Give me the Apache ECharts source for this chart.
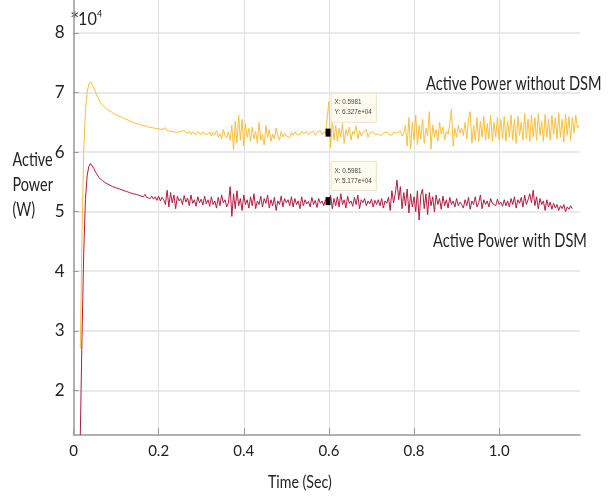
<!DOCTYPE html>
<html>
<head>
<meta charset="utf-8">
<script src="https://cdn.jsdelivr.net/npm/echarts@6/dist/echarts.min.js"></script>
<style>
html,body{margin:0;padding:0;background:#fff;}
#chart{width:608px;height:499px;}
</style>
</head>
<body>
<div id="chart"></div>
<script>
// ---- data (values in units of 10^4 W) ----
const timeStart = 0.016;   // s, first sample
const timeStep = 0.004;    // s, sample spacing
const xTicks = [0, 0.2, 0.4, 0.6, 0.8, 1.0];
const yTicks = [2, 3, 4, 5, 6, 7, 8];
const seriesNames = ['Active Power without DSM', 'Active Power with DSM'];

const powerWithoutDSM = [
  2.7, 4.6, 6.0, 6.7, 7.0, 7.14, 7.18, 7.16, 7.08, 7.0, 6.93, 6.88, 6.82, 6.81, 6.76, 6.75, 6.71, 6.71, 6.68, 6.68, 6.64, 6.65, 6.61, 6.62, 6.59,
  6.60, 6.56, 6.57, 6.54, 6.54, 6.51, 6.53, 6.49, 6.50, 6.47, 6.49, 6.45, 6.47, 6.44, 6.45, 6.42, 6.44, 6.41, 6.43, 6.40, 6.42, 6.39, 6.42, 6.38, 6.40,
  6.41, 6.36, 6.39, 6.35, 6.38, 6.34, 6.37, 6.33, 6.36, 6.35, 6.32, 6.36, 6.33, 6.31, 6.35, 6.30, 6.34, 6.32, 6.29, 6.34, 6.31, 6.29, 6.34, 6.30, 6.32,
  6.30, 6.34, 6.27, 6.33, 6.29, 6.36, 6.25, 6.31, 6.22, 6.38, 6.28, 6.24, 6.34, 6.20, 6.45, 6.04, 6.52, 6.15, 6.62, 6.20, 6.55, 6.10, 6.48, 6.25, 6.40,
  6.18, 6.42, 6.22, 6.35, 6.15, 6.50, 6.20, 6.30, 6.12, 6.45, 6.25, 6.38, 6.18, 6.30, 6.22, 6.40, 6.28, 6.20, 6.35, 6.25, 6.32, 6.27, 6.30, 6.24, 6.33,
  6.28, 6.34, 6.30, 6.33, 6.29, 6.35, 6.31, 6.30, 6.34, 6.29, 6.33, 6.30, 6.35, 6.28, 6.33, 6.31, 6.36, 6.29, 6.34, 6.30, 6.327, 6.85, 6.07, 6.55, 6.20,
  6.45, 6.18, 6.40, 6.25, 6.48, 6.15, 6.38, 6.28, 6.42, 6.20, 6.35, 6.30, 6.44, 6.22, 6.36, 6.27, 6.33, 6.30, 6.38, 6.25, 6.32, 6.29, 6.34, 6.30, 6.31,
  6.30, 6.33, 6.28, 6.32, 6.29, 6.34, 6.30, 6.31, 6.28, 6.33, 6.30, 6.32, 6.29, 6.35, 6.27, 6.32, 6.45, 6.10, 6.58, 6.05, 6.50, 6.20, 6.62, 6.12, 6.45,
  6.22, 6.55, 6.15, 6.40, 6.28, 6.68, 6.05, 6.45, 6.25, 6.38, 6.18, 6.50, 6.30, 6.42, 6.20, 6.35, 6.30, 6.48, 6.72, 6.10, 6.40, 6.25, 6.45, 6.32, 6.40,
  6.28, 6.50, 6.22, 6.55, 6.68, 6.15, 6.45, 6.20, 6.58, 6.18, 6.52, 6.25, 6.60, 6.20, 6.48, 6.22, 6.62, 6.18, 6.50, 6.25, 6.58, 6.20, 6.55, 6.22, 6.60,
  6.18, 6.52, 6.25, 6.62, 6.20, 6.55, 6.15, 6.60, 6.28, 6.50, 6.20, 6.65, 6.22, 6.55, 6.18, 6.62, 6.25, 6.58, 6.20, 6.65, 6.28, 6.52, 6.18, 6.63, 6.25,
  6.55, 6.20, 6.62, 6.30, 6.58, 6.22, 6.66, 6.25, 6.55, 6.17, 6.64, 6.28, 6.60, 6.20, 6.58, 6.32, 6.62, 6.40, 6.45
];

const powerWithDSM = [
  1.25, 2.9, 4.3, 5.2, 5.6, 5.76, 5.81, 5.78, 5.72, 5.66, 5.62, 5.57, 5.56, 5.52, 5.52, 5.48, 5.48, 5.45, 5.45, 5.42, 5.43, 5.40, 5.41, 5.38, 5.39,
  5.36, 5.37, 5.34, 5.35, 5.32, 5.34, 5.30, 5.33, 5.29, 5.31, 5.27, 5.30, 5.25, 5.29, 5.24, 5.27, 5.22, 5.26, 5.21, 5.25, 5.19, 5.26, 5.18, 5.24, 5.20,
  5.12, 5.36, 5.08, 5.32, 5.15, 5.28, 5.05, 5.26, 5.18, 5.22, 5.12, 5.27, 5.16, 5.23, 5.10, 5.28, 5.14, 5.20, 5.09, 5.25, 5.15, 5.21, 5.11, 5.26, 5.13,
  5.20, 5.09, 5.25, 5.12, 5.18, 5.06, 5.24, 5.10, 5.28, 5.15, 5.20, 5.08, 5.15, 5.42, 4.92, 5.30, 5.05, 5.35, 5.10, 5.22, 5.02, 5.28, 5.12, 5.20, 5.06,
  5.25, 5.10, 5.30, 5.05, 5.18, 5.12, 5.26, 5.08, 5.22, 5.14, 5.28, 5.06, 5.20, 5.10, 5.24, 5.02, 5.18, 5.12, 5.26, 5.08, 5.22, 5.15, 5.20, 5.10, 5.25,
  5.08, 5.22, 5.12, 5.18, 5.05, 5.25, 5.10, 5.20, 5.13, 5.17, 5.08, 5.24, 5.12, 5.19, 5.07, 5.22, 5.14, 5.18, 5.10, 5.20, 5.177, 5.12, 5.28, 5.05, 5.22,
  5.10, 5.25, 5.08, 5.30, 5.12, 5.20, 5.06, 5.26, 5.14, 5.18, 5.09, 5.24, 5.12, 5.28, 5.05, 5.20, 5.15, 5.22, 5.10, 5.18, 5.13, 5.21, 5.08, 5.19, 5.12,
  5.20, 5.10, 5.22, 5.06, 5.18, 5.14, 5.24, 5.02, 5.35, 5.15, 5.30, 5.53, 5.20, 5.42, 5.05, 5.32, 5.10, 5.38, 4.98, 5.30, 5.08, 5.25, 5.00, 5.35, 4.86,
  5.28, 5.38, 5.05, 5.30, 4.95, 5.32, 5.10, 5.25, 5.00, 5.28, 5.12, 5.22, 5.04, 5.26, 5.10, 5.20, 5.06, 5.24, 5.12, 5.18, 5.08, 5.22, 5.10, 5.16, 5.12,
  5.06, 5.20, 5.10, 5.24, 5.04, 5.18, 5.12, 5.25, 5.08, 5.15, 5.28, 5.05, 5.20, 5.12, 5.18, 5.08, 5.22, 5.14, 5.17, 5.10, 5.21, 5.12, 5.16, 5.09, 5.20,
  5.10, 5.18, 5.08, 5.22, 5.12, 5.25, 5.06, 5.20, 5.14, 5.24, 5.08, 5.28, 5.12, 5.20, 5.30, 5.15, 5.36, 5.10, 5.25, 5.05, 5.22, 5.12, 5.18, 5.02, 5.20,
  5.08, 5.16, 5.04, 5.14, 5.06, 5.12, 5.02, 5.10, 5.05, 5.12, 5.00, 5.08, 5.04, 5.10, 5.05
];

// data tips shown in the figure
const tipTime = 0.5981;
const tipWithout = 6.327;
const tipWith = 5.177;

// ---- build ----
function toPairs(vals) {
  return vals.map((v, i) => [+(timeStart + timeStep * i).toFixed(4), v]);
}

const FONT = 'Lato';
const INK = '#222';
const chart = echarts.init(document.getElementById('chart'), null, {renderer: 'canvas'});

function tipPoint(x, y) {
  return {
    symbol: 'rect',
    symbolSize: [5, 8],
    silent: true,
    itemStyle: {color: '#000'},
    data: [{
      coord: [x, y],
      value: y,
      label: {
        show: true,
        position: [6, -35],
        formatter: 'X: ' + x + '\nY: ' + y.toFixed(3) + 'e+04',
        fontSize: 6.3,
        lineHeight: 10,
        fontFamily: 'Liberation Sans',
        color: '#444',
        backgroundColor: '#fffbee',
        borderColor: '#ece3c6',
        borderWidth: 1,
        padding: [4, 4, 4, 3]
      }
    }]
  };
}

function label(text, x, y, size, sx, family) {
  return {
    type: 'text', x: x, y: y, scaleX: sx, silent: true,
    style: {text: text, fontSize: size, fontFamily: family || FONT, fill: INK, align: 'left', verticalAlign: 'middle'}
  };
}

const option = {
  animation: false,
  backgroundColor: '#fff',
  grid: {left: 73.5, right: 28, top: 0, bottom: 64, containLabel: false},
  xAxis: {
    type: 'value',
    min: 0,
    max: 1.19,
    interval: 0.2,
    axisLine: {show: true, lineStyle: {color: '#999', width: 1.5}},
    axisTick: {show: true, inside: true, length: 7, lineStyle: {color: '#999'}},
    axisLabel: {
      showMaxLabel: false,
      fontSize: 15, color: INK, fontFamily: FONT, margin: 9,
      formatter: v => (v === 0 ? '0' : v.toFixed(1))
    },
    splitLine: {show: true, showMinLine: false, showMaxLine: false, lineStyle: {color: '#e2e2e2', width: 1}}
  },
  yAxis: {
    type: 'value',
    min: 1.25,
    max: 8.554,
    splitNumber: 7,
    axisLine: {show: true, lineStyle: {color: '#999', width: 1.5}},
    axisTick: {show: true, inside: true, length: 5, lineStyle: {color: '#999'}},
    axisLabel: {
      showMinLabel: false, showMaxLabel: false,
      fontSize: 17, color: INK, fontFamily: FONT, margin: 9,
      formatter: v => String(v)
    },
    splitLine: {show: true, showMinLine: false, showMaxLine: false, lineStyle: {color: '#e2e2e2', width: 1.5}}
  },
  graphic: [
    label('*', 71, 19, 15, 1, 'DejaVu Sans'),
    label('10', 78, 19, 18, 0.9),
    label('4', 97, 14, 10, 0.9),
    label('Active', 12.5, 160, 18.5, 0.78),
    label('Power', 12.5, 185, 18.5, 0.78),
    label('(W)', 12.5, 210, 18.5, 0.78),
    label(seriesNames[0], 426, 84, 18.5, 0.79),
    label(seriesNames[1], 433, 241.5, 18.5, 0.79),
    label('Time (Sec)', 268, 483, 16.7, 0.85)
  ],
  series: [
    {
      name: seriesNames[0],
      type: 'line',
      data: toPairs(powerWithoutDSM),
      showSymbol: false,
      symbol: 'none',
      lineStyle: {color: '#fbbf3c', width: 1},
      z: 2,
      markPoint: tipPoint(tipTime, tipWithout)
    },
    {
      name: seriesNames[1],
      type: 'line',
      data: toPairs(powerWithDSM),
      showSymbol: false,
      symbol: 'none',
      lineStyle: {color: '#b01c40', width: 1},
      z: 3,
      markPoint: tipPoint(tipTime, tipWith)
    }
  ]
};
chart.setOption(option);
</script>
</body>
</html>
